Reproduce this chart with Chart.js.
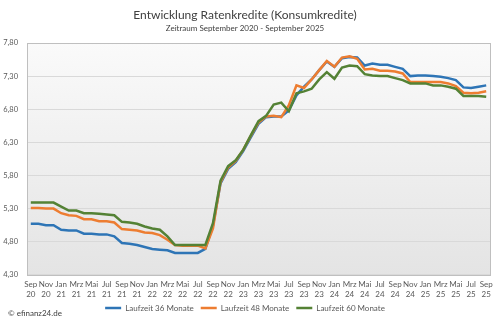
<!DOCTYPE html>
<html lang="de">
<head>
<meta charset="utf-8">
<title>Entwicklung Ratenkredite</title>
<script src="https://cdn.jsdelivr.net/npm/chart.js@4.4.0/dist/chart.umd.min.js"></script>
<style>
  html, body { margin: 0; padding: 0; background: #fff; }
  #wrap { position: relative; width: 500px; height: 322px; }
</style>
</head>
<body>
<div id="wrap"><canvas id="myChart" width="500" height="322"></canvas></div>
<script>
// Monate Sep 2020 - Sep 2025
var monthNames = ['Jan', 'Feb', 'Mrz', 'Apr', 'Mai', 'Jun', 'Jul', 'Aug', 'Sep', 'Okt', 'Nov', 'Dez'];
var tickLabels = ['Sep 20', 'Nov 20', 'Jan 21', 'Mrz 21', 'Mai 21', 'Jul 21', 'Sep 21', 'Nov 21',
                  'Jan 22', 'Mrz 22', 'Mai 22', 'Jul 22', 'Sep 22', 'Nov 22', 'Jan 23', 'Mrz 23',
                  'Mai 23', 'Jul 23', 'Sep 23', 'Nov 23', 'Jan 24', 'Mrz 24', 'Mai 24', 'Jul 24',
                  'Sep 24', 'Nov 24', 'Jan 25', 'Mrz 25', 'Mai 25', 'Jul 25', 'Sep 25'];
var yTicks = [4.30, 4.80, 5.30, 5.80, 6.30, 6.80, 7.30, 7.80];

var seriesNames = ['Laufzeit 36 Monate', 'Laufzeit 48 Monate', 'Laufzeit 60 Monate'];
var seriesColors = ['#2e75b6', '#ed7d31', '#548235'];

var zins36 = [5.07, 5.07, 5.05, 5.05, 4.98, 4.97, 4.97, 4.92, 4.92, 4.91, 4.91, 4.88,
              4.78, 4.77, 4.75, 4.72, 4.69, 4.68, 4.67, 4.63, 4.63, 4.63, 4.63, 4.69,
              5.04, 5.68, 5.90, 6.00, 6.17, 6.38, 6.58, 6.68, 6.69, 6.69, 6.78, 7.01,
              7.14, 7.25, 7.39, 7.52, 7.44, 7.57, 7.59, 7.58, 7.46, 7.49, 7.47, 7.47,
              7.44, 7.41, 7.30, 7.31, 7.31, 7.30, 7.29, 7.27, 7.24, 7.13, 7.12, 7.14, 7.16];
var zins48 = [5.31, 5.31, 5.30, 5.30, 5.23, 5.20, 5.19, 5.14, 5.14, 5.11, 5.11, 5.09,
              4.99, 4.98, 4.97, 4.94, 4.93, 4.90, 4.83, 4.75, 4.74, 4.74, 4.74, 4.70,
              5.00, 5.70, 5.92, 6.02, 6.19, 6.40, 6.60, 6.69, 6.70, 6.68, 6.86, 7.16,
              7.12, 7.25, 7.39, 7.53, 7.44, 7.58, 7.60, 7.56, 7.40, 7.41, 7.38, 7.38,
              7.37, 7.34, 7.21, 7.21, 7.21, 7.21, 7.21, 7.19, 7.15, 7.05, 7.04, 7.05, 7.07];
var zins60 = [5.39, 5.39, 5.39, 5.39, 5.33, 5.27, 5.27, 5.23, 5.23, 5.22, 5.21, 5.20,
              5.10, 5.09, 5.07, 5.03, 5.00, 4.98, 4.88, 4.75, 4.75, 4.75, 4.75, 4.75,
              5.08, 5.72, 5.94, 6.03, 6.19, 6.41, 6.62, 6.70, 6.87, 6.90, 6.77, 7.04,
              7.07, 7.11, 7.25, 7.36, 7.26, 7.43, 7.46, 7.45, 7.33, 7.31, 7.30, 7.30,
              7.27, 7.24, 7.19, 7.19, 7.19, 7.16, 7.16, 7.14, 7.11, 7.00, 7.00, 7.00, 6.99];

var categories = [];
for (var i = 0; i < zins36.length; i++) {
	var m = (8 + i) % 12;
	var y = 20 + Math.floor((8 + i) / 12);
	categories.push(monthNames[m] + ' ' + y);
}

var fontFamily = 'Lato, "Open Sans", sans-serif';
var textColor = '#595959';

// Hintergrund-Verlauf + Rahmen der Zeichenfläche
var plotBackground = {
	id: 'plotBackground',
	beforeDraw: function(chart) {
		var a = chart.chartArea, ctx = chart.ctx;
		var g = ctx.createLinearGradient(0, a.top, 0, a.bottom);
		g.addColorStop(0, '#fafafa');
		g.addColorStop(1, '#e4e4e4');
		ctx.save();
		ctx.fillStyle = g;
		ctx.fillRect(a.left, a.top, a.right - a.left, a.bottom - a.top);
		ctx.restore();
	},
	afterDraw: function(chart) {
		var a = chart.chartArea, ctx = chart.ctx;
		ctx.save();
		ctx.strokeStyle = '#bfbfbf';
		ctx.lineWidth = 1;
		ctx.strokeRect(Math.round(a.left) + 0.5, Math.round(a.top) + 0.5,
		               Math.round(a.right - a.left), Math.round(a.bottom - a.top));
		ctx.fillStyle = '#404040';
		ctx.font = '8px ' + fontFamily;
		ctx.textBaseline = 'middle';
		ctx.fillText('\u00a9 efinanz24.de', 8, 313);
		ctx.restore();
	}
};

var datasets = [zins36, zins48, zins60].map(function(d, k) {
	return {
		label: seriesNames[k],
		data: d,
		borderColor: seriesColors[k],
		backgroundColor: seriesColors[k],
		borderWidth: 2.5,
		pointRadius: 0,
		tension: 0,
		fill: false,
		order: 3 - k
	};
});

var ctx = document.getElementById('myChart').getContext('2d');
var myChart = new Chart(ctx, {
	type: 'line',
	data: { labels: categories, datasets: datasets },
	plugins: [plotBackground],
	options: {
		responsive: false,
		animation: false,
		layout: { padding: { left: 0, right: 10, top: 0, bottom: 0 } },
		plugins: {
			title: {
				display: true,
				text: 'Entwicklung Ratenkredite (Konsumkredite)',
				color: '#404040',
				font: { family: fontFamily, size: 12, weight: 'normal' },
				padding: { top: 8, bottom: 1 }
			},
			subtitle: {
				display: true,
				text: 'Zeitraum September 2020 - September 2025',
				color: '#404040',
				font: { family: fontFamily, size: 8 },
				padding: { top: 0, bottom: 10 }
			},
			legend: {
				position: 'bottom',
				labels: {
					usePointStyle: true,
					pointStyle: 'line',
					pointStyleWidth: 16,
					boxHeight: 3,
					padding: 7,
					color: textColor,
					font: { family: fontFamily, size: 8 },
					sort: function(a, b) { return a.datasetIndex - b.datasetIndex; }
				}
			},
			tooltip: { enabled: false }
		},
		scales: {
			x: {
				offset: true,
				// etwas flacher, damit die Legende mehr Abstand zwischen den Einträgen bekommt
				afterFit: function(scale) { scale.height -= 7; },
				grid: { display: false, drawTicks: false },
				border: { display: false },
				ticks: {
					autoSkip: false,
					maxRotation: 0,
					padding: 5,
					color: textColor,
					font: { family: fontFamily, size: 8 },
					callback: function(v, idx) {
						var lbl = categories[idx];
						if (tickLabels.indexOf(lbl) < 0) return null;
						return lbl.split(' ');
					}
				}
			},
			y: {
				min: yTicks[0],
				max: yTicks[yTicks.length - 1],
				afterFit: function(scale) { scale.width = 27; },
				afterBuildTicks: function(scale) {
					scale.ticks = yTicks.map(function(v) { return { value: v }; });
				},
				grid: { color: '#d9d9d9', drawTicks: false },
				border: { display: false },
				ticks: {
					padding: 9,
					color: textColor,
					font: { family: fontFamily, size: 7.5 },
					callback: function(v) { return v.toFixed(2).replace('.', ','); }
				}
			}
		}
	}
});
</script>
</body>
</html>
